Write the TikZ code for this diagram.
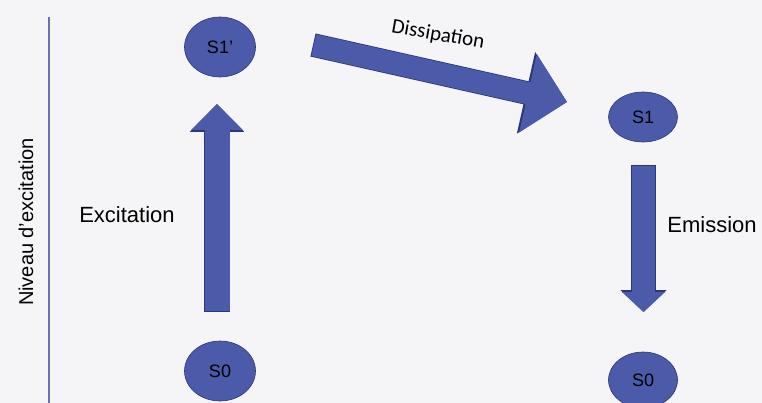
\documentclass[tikz,border=0pt]{standalone}
\usepackage{fontspec}
\setmainfont{Liberation Sans}
\newfontfamily\calibri{Carlito}
\usetikzlibrary{shapes.geometric,arrows.meta}
\definecolor{statefill}{RGB}{76,90,170}
\definecolor{stateedge}{RGB}{44,54,120}
\definecolor{axisline}{RGB}{110,110,180}
\definecolor{paper}{RGB}{245,245,247}
\begin{document}
\begin{tikzpicture}[
    x=1pt, y=-1pt,
    state/.style={ellipse, draw=stateedge, fill=statefill, semithick, inner sep=0pt, text=black, font=\fontsize{18}{20}\selectfont},
    flow/.style={draw=statefill, line width=#1, shorten <=0.8pt},
    flowedge/.style={draw=stateedge, line width=#1},
    lbl/.style={font=\fontsize{22}{26}\selectfont},
]
\fill[paper] (0,0) rectangle (762,403);
\useasboundingbox (0,0) rectangle (762,403);
% levels axis
\coordinate (axt) at (49,17);
\coordinate (axb) at (49,403);
\draw[axisline, line width=1.2pt] (axt) -- (axb);
\node[font=\fontsize{20}{24}\selectfont, rotate=90] (axis) at (26,222) {Niveau d'excitation};
% states
\node[state, minimum width=71pt, minimum height=60pt] (S1p) at (220,47) {S1'};
\node[state, minimum width=71pt, minimum height=60pt] (S0a) at (220,371) {S0};
\node[state, minimum width=69pt, minimum height=50pt] (S1) at (643,117) {S1};
\node[state, minimum width=69pt, minimum height=56pt] (S0b) at (643,380) {S0};
% arrow ends
\coordinate (exb) at (217,312);
\coordinate (ext) at (217,104);
\coordinate (dsb) at (313,45);
\coordinate (dst) at (567,102);
\coordinate (emt) at (643.5,165);
\coordinate (emb) at (643.5,312);
% transitions (dark rim first)
\draw[flowedge=26.6pt, -{Triangle[length=28pt, width=53pt]}] (exb) -- (ext);
\draw[flow=25pt, -{Triangle[length=26pt, width=50pt]}] (exb) -- (ext);
\draw[flowedge=23.6pt, -{Triangle[length=42pt, width=81pt]}] (dsb) -- (dst);
\draw[flow=22pt, -{Triangle[length=40pt, width=78pt]}] (dsb) -- (dst);
\draw[flowedge=24.6pt, -{Triangle[length=22pt, width=45pt]}] (emt) -- (emb);
\draw[flow=23pt, -{Triangle[length=20pt, width=42pt]}] (emt) -- (emb);
\node[lbl] (exc) at (127,215) {Excitation};
\node[font=\calibri\fontsize{21}{25}\selectfont, rotate=-10] (dis) at (438,35) {Dissipation};
\node[lbl] (emi) at (712,225) {Emission};
\end{tikzpicture}
\end{document}
